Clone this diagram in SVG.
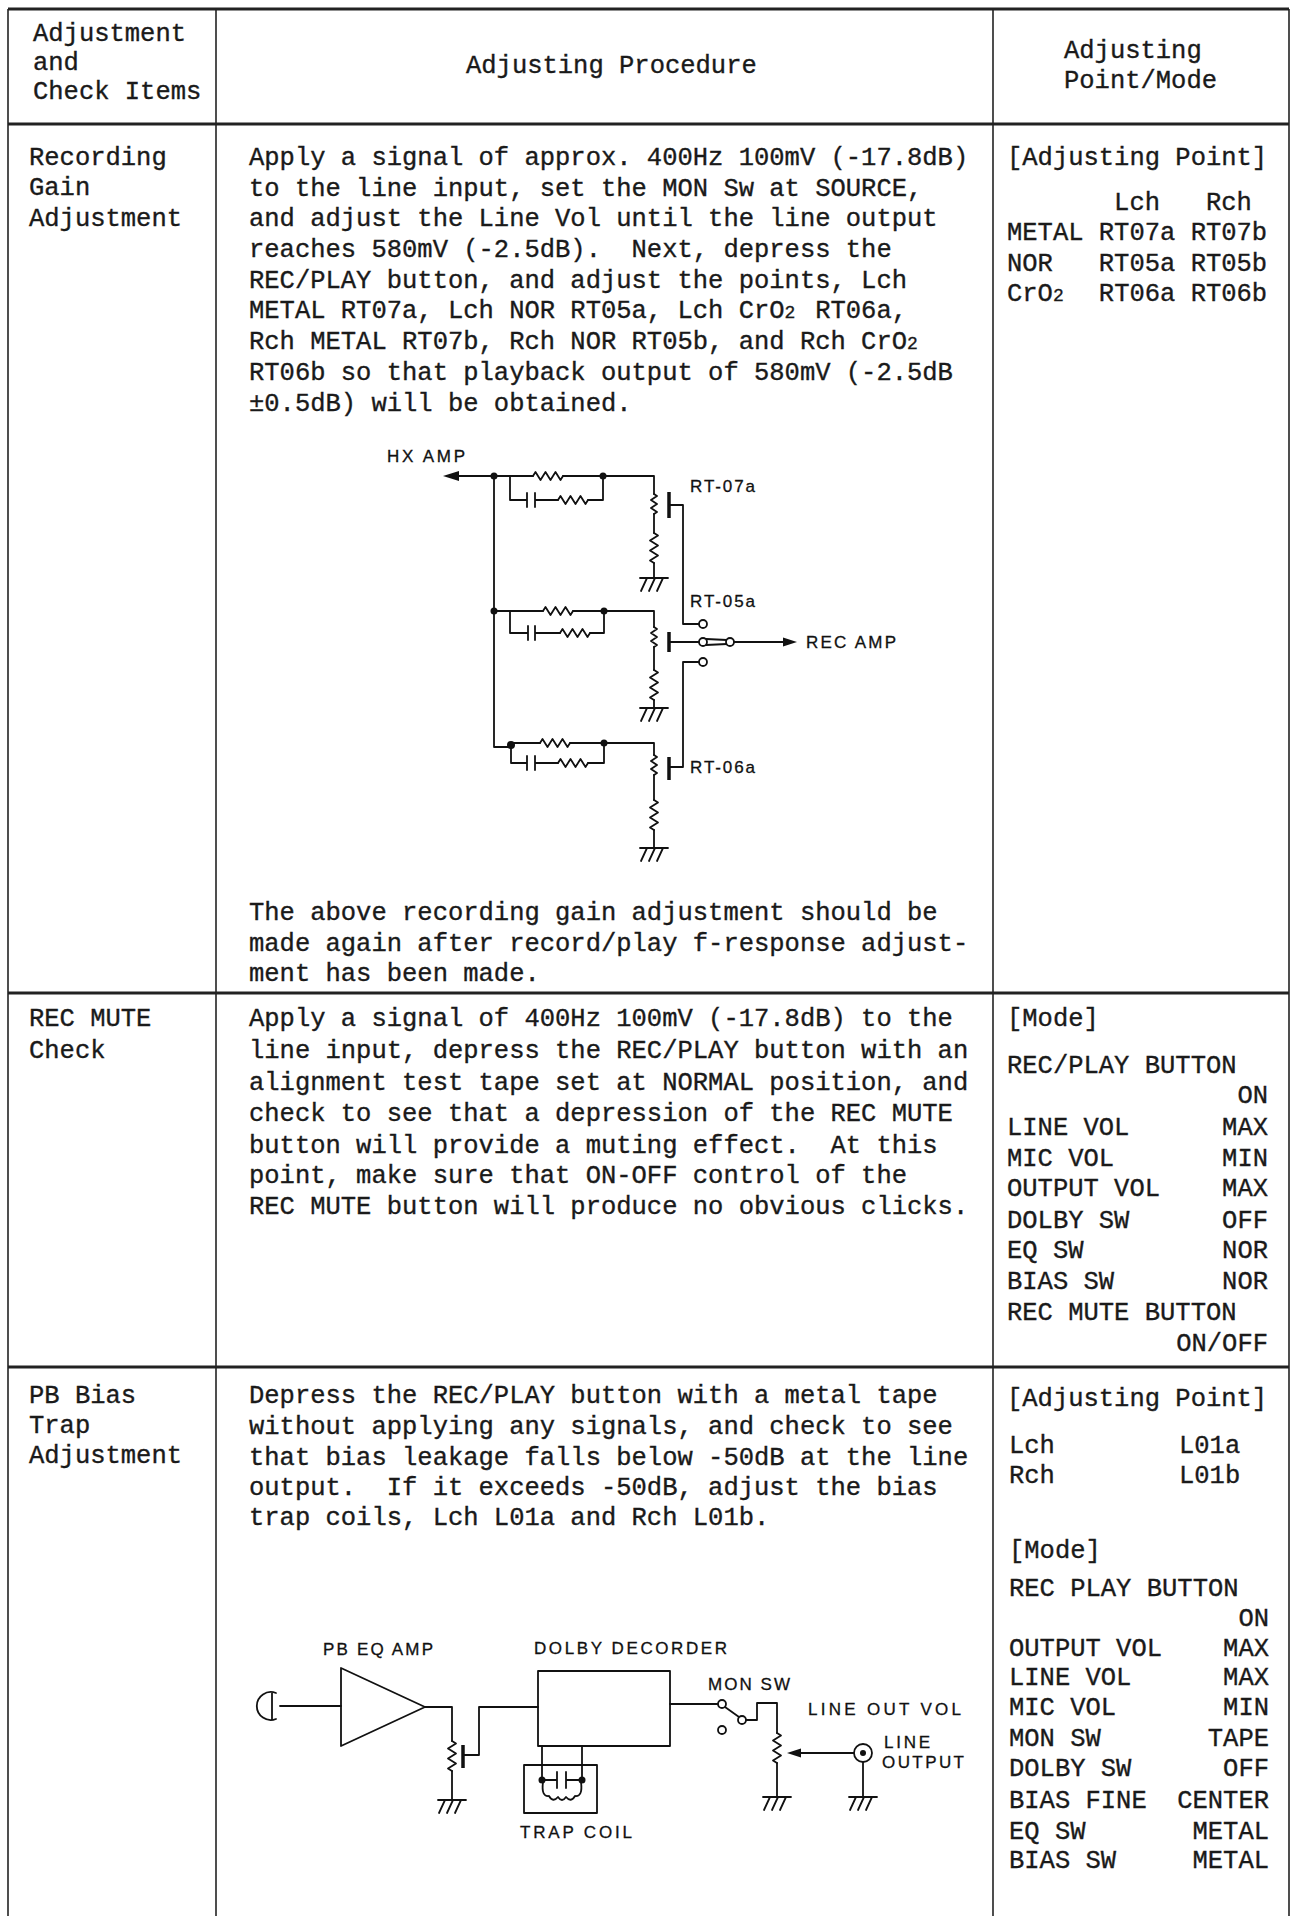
<svg xmlns="http://www.w3.org/2000/svg" xmlns:xlink="http://www.w3.org/1999/xlink" width="1293" height="1916" viewBox="0 0 1293 1916">
<style>
.t{font-family:"Liberation Mono","DejaVu Sans Mono",monospace;font-size:25.5px;fill:#1a1a1a;stroke:#1a1a1a;stroke-width:0.35;white-space:pre}
.e{text-anchor:end}
.lbl{font-family:"Liberation Sans",Arial,sans-serif;font-size:17px;fill:#111;stroke:#111;stroke-width:0.3}
.w{fill:none;stroke:#111;stroke-width:1.8;stroke-linejoin:round;stroke-linecap:round}
.bar{fill:none;stroke:#111;stroke-width:3.5}
.v{stroke:#222;stroke-width:1.6}
.h{stroke:#222;stroke-width:3}
.dot{fill:#111}
.ring{fill:#fff;stroke:#111;stroke-width:1.8}
</style>
<defs>
<path id="rh" class="w" d="M0 0 l2.5 -4 l5 8 l5 -8 l5 8 l5 -8 l5 8 l2.5 -4"/>
<path id="rv" class="w" d="M0 0 l4 2.5 l-8 5 l8 5 l-8 5 l8 5 l-8 5 l4 2.5"/>
<path id="rv20" class="w" d="M0 0 l3 2 l-6 4 l6 4 l-6 4 l6 4 l-3 2"/>
<path id="gnd" class="w" d="M-14 0 H14 M-7 0 L-13 13 M1 0 L-5 13 M9 0 L3 13"/>
</defs>
<rect width="1293" height="1916" fill="#fff"/>

<g id="table">
<line class="h" x1="8" y1="9" x2="1289" y2="9"/>
<line class="h" x1="8" y1="124" x2="1289" y2="124"/>
<line class="h" x1="8" y1="993" x2="1289" y2="993"/>
<line class="h" x1="8" y1="1367" x2="1289" y2="1367"/>
<line class="v" x1="8" y1="9" x2="8" y2="1916"/>
<line class="v" x1="216" y1="9" x2="216" y2="1916"/>
<line class="v" x1="993" y1="9" x2="993" y2="1916"/>
<line class="v" x1="1289" y1="9" x2="1289" y2="1916"/>
</g>

<g id="header">
<text class="t" x="33" y="41">Adjustment</text>
<text class="t" x="33" y="70">and</text>
<text class="t" x="33" y="99">Check Items</text>
<text class="t" x="466" y="73">Adjusting Procedure</text>
<text class="t" x="1064" y="58">Adjusting</text>
<text class="t" x="1064" y="88">Point/Mode</text>
</g>

<g id="row-recording-gain">
<text class="t" x="29" y="165">Recording</text>
<text class="t" x="29" y="195">Gain</text>
<text class="t" x="29" y="226">Adjustment</text>
<text class="t" x="249" y="165">Apply a signal of approx. 400Hz 100mV (-17.8dB)</text>
<text class="t" x="249" y="196">to the line input, set the MON Sw at SOURCE,</text>
<text class="t" x="249" y="226">and adjust the Line Vol until the line output</text>
<text class="t" x="249" y="257">reaches 580mV (-2.5dB).  Next, depress the</text>
<text class="t" x="249" y="288">REC/PLAY button, and adjust the points, Lch</text>
<text class="t" x="249" y="318">METAL RT07a, Lch NOR RT05a, Lch CrO<tspan font-size="18">2</tspan><tspan dx="4.5"> RT06a,</tspan></text>
<text class="t" x="249" y="349">Rch METAL RT07b, Rch NOR RT05b, and Rch CrO<tspan font-size="18">2</tspan></text>
<text class="t" x="249" y="380">RT06b so that playback output of 580mV (-2.5dB</text>
<text class="t" x="249" y="411">±0.5dB) will be obtained.</text>
<text class="t" x="249" y="920">The above recording gain adjustment should be</text>
<text class="t" x="249" y="951">made again after record/play f-response adjust-</text>
<text class="t" x="249" y="981">ment has been made.</text>
<text class="t" x="1007" y="165">[Adjusting Point]</text>
<text class="t" x="1007" y="210">       Lch   Rch</text>
<text class="t" x="1007" y="240">METAL RT07a RT07b</text>
<text class="t" x="1007" y="271">NOR   RT05a RT05b</text>
<text class="t" x="1007" y="301">CrO<tspan font-size="18">2</tspan><tspan dx="4.5">  RT06a RT06b</tspan></text>
</g>

<g id="circuit-rec-gain">
<g id="labels1">
<text class="lbl" x="387" y="462" textLength="78" lengthAdjust="spacing">HX AMP</text>
<text class="lbl" x="690" y="492" textLength="65" lengthAdjust="spacing">RT-07a</text>
<text class="lbl" x="690" y="607" textLength="65" lengthAdjust="spacing">RT-05a</text>
<text class="lbl" x="806" y="648" textLength="90" lengthAdjust="spacing">REC AMP</text>
<text class="lbl" x="690" y="773" textLength="65" lengthAdjust="spacing">RT-06a</text>
</g>
<g id="wires1">
<path class="w" d="M494 476 H458"/>
<polygon class="dot" points="443,476 459,471 459,481"/>
<path class="w" d="M494 476 H533 M563 476 H654 V494 M494 476 V747 H511"/>
<use xlink:href="#rh" x="533" y="476"/>
<path class="w" d="M510 476 V500 H527 M527 493 V507 M535 493 V507 M535 500 H558 M588 500 H603 V476"/>
<use xlink:href="#rh" x="558" y="500"/>
<use xlink:href="#rv20" x="654" y="494"/>
<path class="w" d="M654 514 V533 M654 563 V578"/>
<use xlink:href="#rv" x="654" y="533"/>
<use xlink:href="#gnd" x="654" y="578"/>
<path class="bar" d="M669 492 V518"/>
<path class="w" d="M669 505 H683 V624 H699"/>

<path class="w" d="M494 611 H543 M573 611 H654 V627"/>
<use xlink:href="#rh" x="543" y="611"/>
<path class="w" d="M510 611 V633 H528 M528 626 V640 M535 626 V640 M535 633 H560 M590 633 H604 V611"/>
<use xlink:href="#rh" x="560" y="633"/>
<use xlink:href="#rv20" x="654" y="627"/>
<path class="w" d="M654 647 V670 M654 700 V708"/>
<use xlink:href="#rv" x="654" y="670"/>
<use xlink:href="#gnd" x="654" y="708"/>
<path class="bar" d="M669 632 V652"/>
<path class="w" d="M669 642 H699"/>
<path class="w" d="M706 639 L727 640 M706 645 L727 644"/>
<path class="w" d="M734 642 H784"/>
<polygon class="dot" points="797,642 783,637.5 783,646.5"/>
<path class="w" d="M699 662 H683 V767 H669"/>

<path class="w" d="M511 743 H540 M570 743 H654 V755"/>
<use xlink:href="#rh" x="540" y="743"/>
<path class="w" d="M511 743 V763 H527 M527 756 V770 M535 756 V770 M535 763 H558 M588 763 H604 V743"/>
<use xlink:href="#rh" x="558" y="763"/>
<use xlink:href="#rv20" x="654" y="755"/>
<path class="w" d="M654 775 V800 M654 830 V848"/>
<use xlink:href="#rv" x="654" y="800"/>
<use xlink:href="#gnd" x="654" y="848"/>
<path class="bar" d="M669 757 V780"/>
</g>
<g id="switch1">
<circle class="ring" cx="703" cy="624" r="4"/>
<circle class="ring" cx="703" cy="642" r="4"/>
<circle class="ring" cx="730" cy="642" r="4"/>
<circle class="ring" cx="703" cy="662" r="4"/>
</g>
<g id="nodes1">
<circle class="dot" cx="494" cy="476" r="3.5"/>
<circle class="dot" cx="603" cy="476" r="3.5"/>
<circle class="dot" cx="494" cy="611" r="3.5"/>
<circle class="dot" cx="604" cy="611" r="3.5"/>
<circle class="dot" cx="511" cy="745" r="4"/>
<circle class="dot" cx="604" cy="743" r="3.5"/>
</g>
</g>

<g id="row-rec-mute">
<text class="t" x="29" y="1026">REC MUTE</text>
<text class="t" x="29" y="1058">Check</text>
<text class="t" x="249" y="1026">Apply a signal of 400Hz 100mV (-17.8dB) to the</text>
<text class="t" x="249" y="1058">line input, depress the REC/PLAY button with an</text>
<text class="t" x="249" y="1090">alignment test tape set at NORMAL position, and</text>
<text class="t" x="249" y="1121">check to see that a depression of the REC MUTE</text>
<text class="t" x="249" y="1153">button will provide a muting effect.  At this</text>
<text class="t" x="249" y="1183">point, make sure that ON-OFF control of the</text>
<text class="t" x="249" y="1214">REC MUTE button will produce no obvious clicks.</text>
<text class="t" x="1007" y="1026">[Mode]</text>
<text class="t" x="1007" y="1073">REC/PLAY BUTTON</text>
<text class="t e" x="1268" y="1103">ON</text>
<text class="t" x="1007" y="1135">LINE VOL</text><text class="t e" x="1268" y="1135">MAX</text>
<text class="t" x="1007" y="1166">MIC VOL</text><text class="t e" x="1268" y="1166">MIN</text>
<text class="t" x="1007" y="1196">OUTPUT VOL</text><text class="t e" x="1268" y="1196">MAX</text>
<text class="t" x="1007" y="1228">DOLBY SW</text><text class="t e" x="1268" y="1228">OFF</text>
<text class="t" x="1007" y="1258">EQ SW</text><text class="t e" x="1268" y="1258">NOR</text>
<text class="t" x="1007" y="1289">BIAS SW</text><text class="t e" x="1268" y="1289">NOR</text>
<text class="t" x="1007" y="1320">REC MUTE BUTTON</text>
<text class="t e" x="1268" y="1351">ON/OFF</text>
</g>

<g id="row-pb-bias-trap">
<text class="t" x="29" y="1403">PB Bias</text>
<text class="t" x="29" y="1433">Trap</text>
<text class="t" x="29" y="1463">Adjustment</text>
<text class="t" x="249" y="1403">Depress the REC/PLAY button with a metal tape</text>
<text class="t" x="249" y="1434">without applying any signals, and check to see</text>
<text class="t" x="249" y="1465">that bias leakage falls below -50dB at the line</text>
<text class="t" x="249" y="1495">output.  If it exceeds -50dB, adjust the bias</text>
<text class="t" x="249" y="1525">trap coils, Lch L01a and Rch L01b.</text>
<text class="t" x="1007" y="1406">[Adjusting Point]</text>
<text class="t" x="1009" y="1453">Lch</text><text class="t" x="1179" y="1453">L01a</text>
<text class="t" x="1009" y="1483">Rch</text><text class="t" x="1179" y="1483">L01b</text>
<text class="t" x="1009" y="1558">[Mode]</text>
<text class="t" x="1009" y="1596">REC PLAY BUTTON</text>
<text class="t e" x="1269" y="1626">ON</text>
<text class="t" x="1009" y="1656">OUTPUT VOL</text><text class="t e" x="1269" y="1656">MAX</text>
<text class="t" x="1009" y="1685">LINE VOL</text><text class="t e" x="1269" y="1685">MAX</text>
<text class="t" x="1009" y="1715">MIC VOL</text><text class="t e" x="1269" y="1715">MIN</text>
<text class="t" x="1009" y="1746">MON SW</text><text class="t e" x="1269" y="1746">TAPE</text>
<text class="t" x="1009" y="1776">DOLBY SW</text><text class="t e" x="1269" y="1776">OFF</text>
<text class="t" x="1009" y="1808">BIAS FINE</text><text class="t e" x="1269" y="1808">CENTER</text>
<text class="t" x="1009" y="1839">EQ SW</text><text class="t e" x="1269" y="1839">METAL</text>
<text class="t" x="1009" y="1868">BIAS SW</text><text class="t e" x="1269" y="1868">METAL</text>
</g>

<g id="circuit-bias-trap">
<g id="labels3">
<text class="lbl" x="323" y="1655" textLength="110" lengthAdjust="spacing">PB EQ AMP</text>
<text class="lbl" x="534" y="1654" textLength="193" lengthAdjust="spacing">DOLBY DECORDER</text>
<text class="lbl" x="708" y="1690" textLength="82" lengthAdjust="spacing">MON SW</text>
<text class="lbl" x="808" y="1715" textLength="153" lengthAdjust="spacing">LINE OUT VOL</text>
<text class="lbl" x="884" y="1748" textLength="46" lengthAdjust="spacing">LINE</text>
<text class="lbl" x="882" y="1768" textLength="82" lengthAdjust="spacing">OUTPUT</text>
<text class="lbl" x="520" y="1838" textLength="112" lengthAdjust="spacing">TRAP COIL</text>
</g>
<g id="head">
<path class="w" d="M276 1693 A14 14 0 1 0 276 1719 M272 1693 V1719"/>
</g>
<g id="pb-eq-amp">
<polygon class="w" points="341,1668 341,1746 425,1707"/>
</g>
<g id="dolby-decorder">
<rect class="w" x="538" y="1671" width="132" height="75"/>
</g>
<g id="trap-coil">
<rect class="w" x="524" y="1765" width="73" height="48"/>
<path class="w" d="M542 1780 H557 M557 1772 V1788 M566 1772 V1788 M566 1780 H582"/>
<path class="w" d="M543 1782 Q541 1797 549 1796 Q553 1803 558 1797 Q562 1803 566 1797 Q571 1803 575 1796 Q583 1797 581 1782"/>
<circle class="dot" cx="542" cy="1780" r="3.5"/>
<circle class="dot" cx="582" cy="1780" r="3.5"/>
</g>
<g id="wires3">
<path class="w" d="M280 1706 H341"/>
<path class="w" d="M425 1707 H452 V1741 M452 1771 V1800"/>
<use xlink:href="#rv" x="452" y="1741"/>
<use xlink:href="#gnd" x="452" y="1800"/>
<path class="bar" d="M463 1745 V1768"/>
<path class="w" d="M463 1755 H479 V1707 H538"/>
<path class="w" d="M542 1746 V1780 M582 1746 V1780"/>
<path class="w" d="M670 1704 H718"/>
<path class="w" d="M725 1707 L739 1717"/>
<path class="w" d="M746 1720 H757 V1703 H777 V1733 M777 1763 V1797"/>
<use xlink:href="#rv" x="777" y="1733"/>
<use xlink:href="#gnd" x="777" y="1797"/>
<path class="w" d="M854 1753 H800"/>
<polygon class="dot" points="787,1753 801,1748.5 801,1757.5"/>
<path class="w" d="M863 1762 V1797"/>
<use xlink:href="#gnd" x="863" y="1797"/>
</g>
<g id="mon-sw">
<circle class="ring" cx="722" cy="1704" r="4"/>
<circle class="ring" cx="742" cy="1720" r="4"/>
<circle class="ring" cx="722" cy="1730" r="4"/>
</g>
<g id="line-output">
<circle class="ring" cx="863" cy="1753" r="9"/>
<circle class="dot" cx="863" cy="1753" r="3"/>
</g>
</g>
</svg>
